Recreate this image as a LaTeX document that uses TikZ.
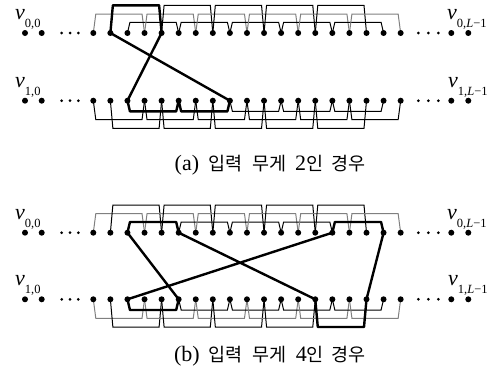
\documentclass[tikz,border=0pt]{standalone}
\usepackage{fontspec}
\setmainfont{Liberation Serif}
\newfontfamily\krfont{Noto Sans CJK KR}
\usetikzlibrary{calc,backgrounds}
\newcommand\myrow[4]{%
  \node[dotn] (#1-l1) at (25,#2) {};
  \node[dotn] (#1-l2) at (41.7,#2) {};
  \foreach \e [count=\i] in {61.7,70,78.3} \node[smalldot] (#1-el\i) at (\e,#2) {};
  \foreach \k in {0,...,18} \node[dotn] (#1-\k) at ({93.3+17.075*\k},#2) {};
  \foreach \e [count=\i] in {418.3,428.3,438.3} \node[smalldot] (#1-er\i) at (\e,#2) {};
  \node[dotn] (#1-r1) at (451.3,#2) {};
  \node[dotn] (#1-r2) at (468.3,#2) {};
  \begin{scope}[on background layer]
  \foreach \k in {0,...,15} {
    \pgfmathtruncatemacro\m{\k+3}
    \pgfmathtruncatemacro\r{mod(\k,3)}
    \pgfmathsetmacro\lev{#3*(\r==0 ? 19 : (\r==1 ? 27.7 : 10.7))}
    \ifnum\r=0 \def\col{#4}\else\def\col{black}\fi
    \draw[thinln,color=\col] (#1-\k.center) -- ++(2.5,\lev) -- ($(#1-\m.center)+(-2.5,\lev)$) -- (#1-\m.center);
  }
  \end{scope}
}
\newcommand\vlab[4]{% name, x, dot y, subscript
  \node[lbl] (#1) at (#2,{#3-13.5}) {\fontsize{22}{22}\selectfont\itshape v\raisebox{-8pt}{\upshape\fontsize{12.5}{12.5}\selectfont #4}};
}
\newcommand\kr[1]{{\fontsize{18.5}{18.5}\selectfont\krfont #1}}
\begin{document}
\begin{tikzpicture}[x=1pt,y=-1pt,
  dotn/.style={circle,fill=black,inner sep=0pt,minimum size=6pt},
  smalldot/.style={circle,fill=black,inner sep=0pt,minimum size=3pt},
  thinln/.style={line width=1pt},
  hl/.style={line width=2.4pt,line join=round},
  lbl/.style={inner sep=0pt,anchor=base west},
  captxt/.style={inner sep=0pt,anchor=base,font=\fontsize{22}{22}\selectfont}]
\useasboundingbox (0,0) rectangle (504,380);
\definecolor{midgray}{gray}{0.5}
\myrow{A0}{33}{-1}{midgray}
\myrow{A1}{100.7}{1}{black}
\myrow{B0}{232.7}{-1}{midgray}
\myrow{B1}{299.3}{1}{midgray}
\vlab{la0}{15}{33}{0,0}
\vlab{la1}{15}{100.7}{1,0}
\vlab{la2}{447}{33}{0,\itshape L\upshape −1}
\vlab{la3}{448}{100.7}{1,\itshape L\upshape −1}
\vlab{lb0}{15}{232.7}{0,0}
\vlab{lb1}{15}{299.3}{1,0}
\vlab{lb2}{447}{232.7}{0,\itshape L\upshape −1}
\vlab{lb3}{448}{299.3}{1,\itshape L\upshape −1}
% highlighted path (a)
\draw[hl] (A0-1.center) -- ++(2.5,-27.7) -- ($(A0-4.center)+(-2.5,-27.7)$) -- (A0-4.center)
  -- (A1-2.center) -- ++(2.5,10.7) -- ($(A1-5.center)+(-2.5,10.7)$) -- (A1-5.center)
  -- ++(2.5,10.7) -- ($(A1-8.center)+(-2.5,10.7)$) -- (A1-8.center) -- cycle;
% highlighted path (b)
\draw[hl] (B0-2.center) -- ++(2.5,-10.7) -- ($(B0-5.center)+(-2.5,-10.7)$) -- (B0-5.center)
  -- (B1-13.center) -- ++(2.5,27.7) -- ($(B1-16.center)+(-2.5,27.7)$) -- (B1-16.center)
  -- (B0-17.center) -- ++(-2.5,-10.7) -- ($(B0-14.center)+(2.5,-10.7)$) -- (B0-14.center)
  -- (B1-2.center) -- ++(2.5,10.7) -- ($(B1-5.center)+(-2.5,10.7)$) -- (B1-5.center) -- cycle;
\node[captxt] (capa) at (270,170.5) {(a)\hspace{9pt}\kr{입력}\hspace{10pt}\kr{무게}\hspace{9pt}2\kr{인}\hspace{8pt}\kr{경우}};
\node[captxt] (capb) at (270,361) {(b)\hspace{9pt}\kr{입력}\hspace{10pt}\kr{무게}\hspace{9pt}4\kr{인}\hspace{8pt}\kr{경우}};
\end{tikzpicture}
\end{document}
